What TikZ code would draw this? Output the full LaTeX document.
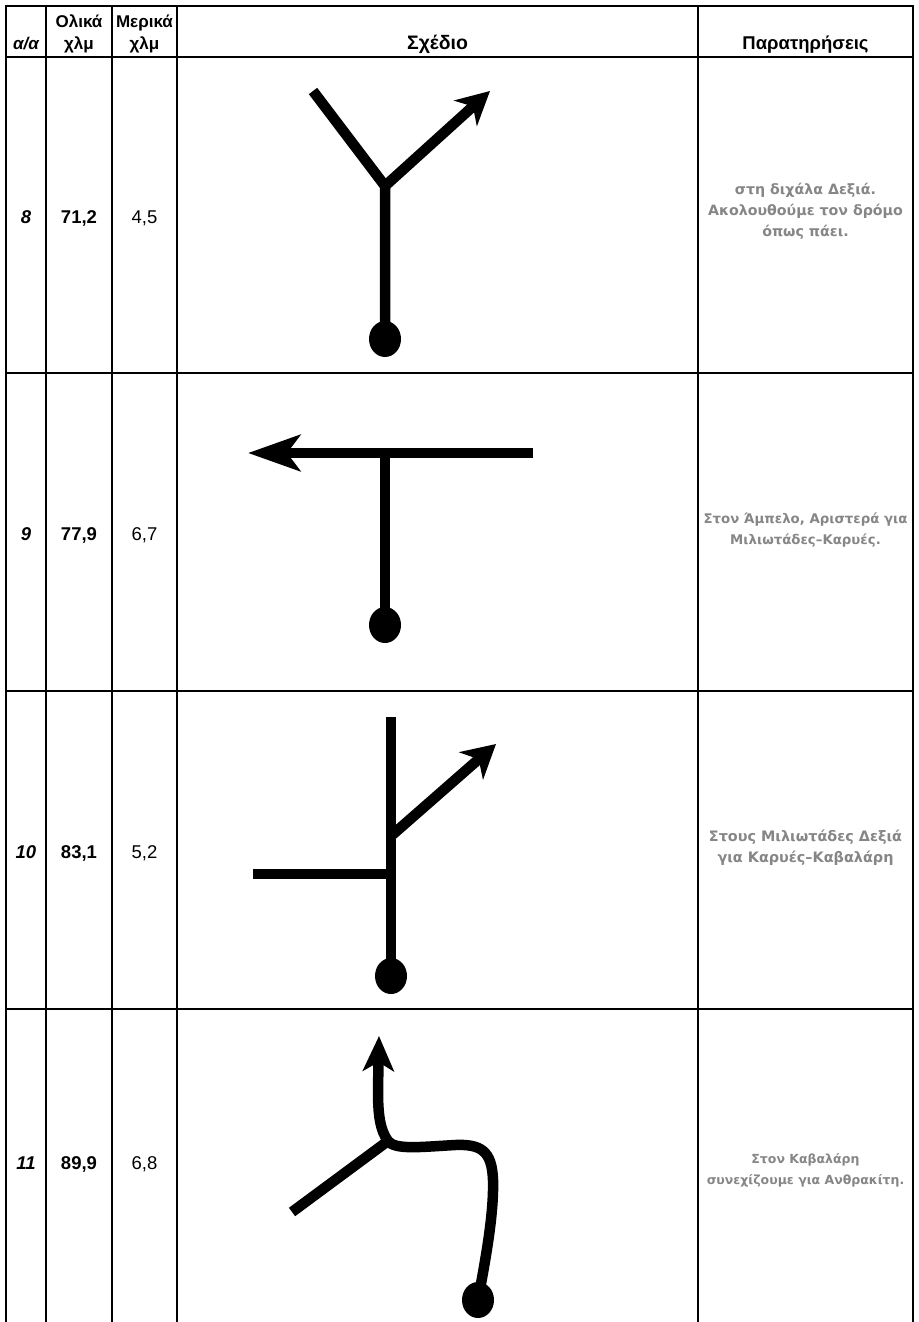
\documentclass[tikz,border=0pt]{standalone}
\usepackage{fontspec}
\setmainfont{Liberation Sans}
\newfontfamily\notefont{DejaVu Sans}
\usepackage{tikz}
\usetikzlibrary{arrows.meta, shapes.geometric}
\newcommand\hd{\fontsize{17}{20}\selectfont\bfseries}
\newcommand\nt[1]{\notefont\bfseries\fontsize{#1}{21}\selectfont}

\begin{document}
\begin{tikzpicture}[x=1pt, y=-1pt,
  rule/.style={line width=2.6pt},
  sep/.style={line width=1.8pt},
  road/.style={line width=10.5pt},
  head/.style={font=\hd, anchor=base, inner sep=0pt},
  val/.style={font=\fontsize{18.5}{20}\selectfont, anchor=base, inner sep=0pt},
  num/.style={val, font=\fontsize{18.5}{20}\selectfont\bfseries},
  note/.style={text=gray!95, align=center, inner sep=0pt},
  stop/.style={fill, ellipse, minimum width=32pt, minimum height=36pt, inner sep=0pt}]
\useasboundingbox (0,0) rectangle (918,1322);
% table
\draw[rule] (5,6) -- (914,6);
\foreach \y in {57,373,691,1009} \draw[rule] (5,\y) -- (914,\y);
\foreach \x in {6,46,112,177,698,913} \draw[sep] (\x,5) -- (\x,1322);
% header
\node[head, font=\hd\itshape] (h1) at (26,49) {α/α};
\node[head] (h2a) at (79,28) {Ολικά};
\node[head] (h2b) at (79,49) {χλμ};
\node[head] (h3a) at (144.5,28) {Μερικά};
\node[head] (h3b) at (144.5,49) {χλμ};
\node[head, font=\fontsize{19.5}{20}\selectfont\bfseries] (h4) at (437.5,49) {Σχέδιο};
\node[head, font=\fontsize{18.5}{20}\selectfont\bfseries] (h5) at (805.5,49) {Παρατηρήσεις};
% values
\node[num, font=\fontsize{18.5}{20}\selectfont\bfseries\itshape] (aa8) at (26,223) {8};
\node[num] (ok8) at (79,223) {71,2};
\node[val] (mk8) at (144.5,223) {4,5};
\node[num, font=\fontsize{18.5}{20}\selectfont\bfseries\itshape] (aa9) at (26,540) {9};
\node[num] (ok9) at (79,540) {77,9};
\node[val] (mk9) at (144.5,540) {6,7};
\node[num, font=\fontsize{18.5}{20}\selectfont\bfseries\itshape] (aa10) at (26,858) {10};
\node[num] (ok10) at (79,858) {83,1};
\node[val] (mk10) at (144.5,858) {5,2};
\node[num, font=\fontsize{18.5}{20}\selectfont\bfseries\itshape] (aa11) at (26,1169) {11};
\node[num] (ok11) at (79,1169) {89,9};
\node[val] (mk11) at (144.5,1169) {6,8};
% notes
\node[note, font=\nt{14.2}] (pr8) at (805.5,211) {στη διχάλα Δεξιά.\\ Ακολουθούμε τον δρόμο\\ όπως πάει.};
\node[note, font=\nt{13.3}] (pr9) at (805.5,530) {Στον Άμπελο, Αριστερά για\\ Μιλιωτάδες–Καρυές.};
\node[note, font=\nt{14.4}] (pr10) at (805.5,848) {Στους Μιλιωτάδες Δεξιά\\ για Καρυές–Καβαλάρη};
\node[note, font=\nt{12.5}] (pr11) at (805.5,1170) {Στον Καβαλάρη\\ συνεχίζουμε για Ανθρακίτη.};
% row 8
\coordinate (a8) at (313,91);
\coordinate (j8) at (385,186);
\coordinate (t8) at (490,91);
\node[stop] (d8) at (385,339) {};
\draw[road] (a8) -- (j8) -- (d8.center);
\draw[road, -{Stealth[length=33pt, width=34pt, inset=10pt]}] (j8) -- (t8);
% row 9
\coordinate (e9) at (533,453);
\coordinate (j9) at (385,453);
\coordinate (t9) at (248,453);
\node[stop] (d9) at (385,625) {};
\draw[road, -{Stealth[length=52pt, width=36pt, inset=13pt]}] (e9) -- (t9);
\draw[road] (j9) -- (d9.center);
% row 10
\coordinate (s10) at (391,717);
\coordinate (b10) at (391,836);
\coordinate (t10) at (496,744);
\coordinate (l10) at (253,874);
\coordinate (j10) at (391,874);
\node[stop] (d10) at (391,976) {};
\draw[road] (s10) -- (d10.center);
\draw[road, -{Stealth[length=33pt, width=36pt, inset=10pt]}] (b10) -- (t10);
\draw[road] (l10) -- (j10);
% row 11
\coordinate (a11) at (292,1212);
\coordinate (j11) at (388,1141);
\coordinate (t11) at (379,1036);
\node[stop] (d11) at (478,1300) {};
\draw[road] (a11) -- (j11);
\draw[road, -{Stealth[length=35pt, width=31pt, inset=9pt]}] (d11.center)
  .. controls (485,1262) and (494,1215) .. (493,1180)
  .. controls (492,1150) and (480,1144) .. (455,1145)
  .. controls (420,1147) and (395,1150) .. (j11)
  .. controls (380,1130) and (378,1115) .. (378,1090) -- (t11);
\end{tikzpicture}
\end{document}
